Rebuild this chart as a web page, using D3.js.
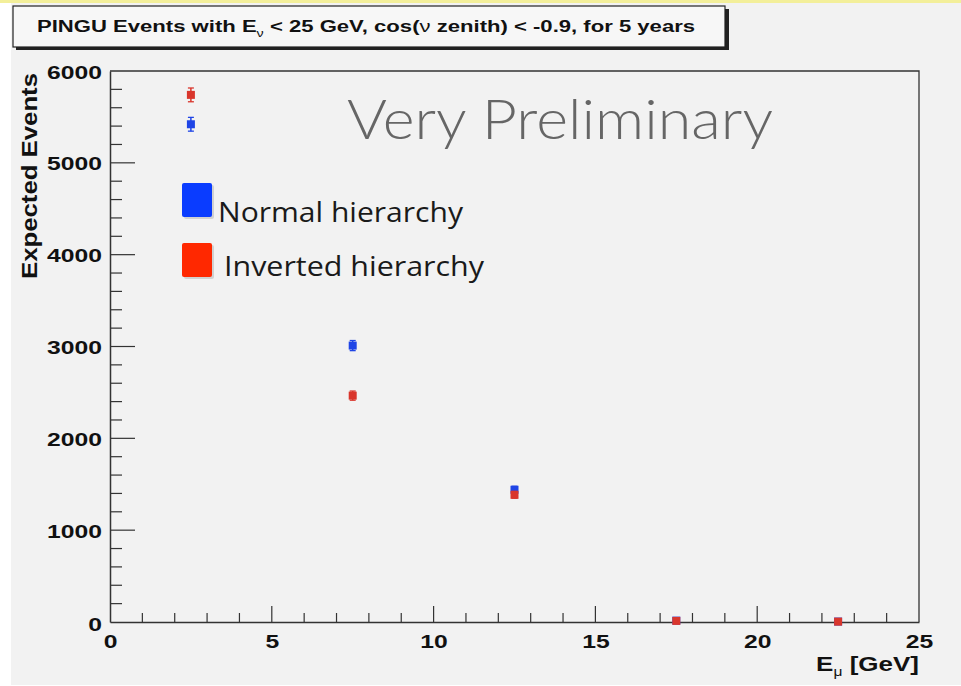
<!DOCTYPE html>
<html>
<head>
<meta charset="utf-8">
<title>PINGU events</title>
<script src="https://d3js.org/d3.v7.min.js"></script>
<style>
  body { margin: 0; background: #fff; }
  text { font-family: "Liberation Sans", Arial, sans-serif; }
</style>
</head>
<body>
<div id="chart"></div>
<script>
// data
var energyBins = [2.5, 7.5, 12.5, 17.5, 22.5];
var normalEvents = [5420, 3010, 1440, 15, 5];
var normalErrors = [75, 55, 38, 4, 2];
var invertedEvents = [5740, 2465, 1385, 12, 4];
var invertedErrors = [75, 50, 37, 4, 2];
var xTicks = [0, 5, 10, 15, 20, 25];
var yTicks = [0, 1000, 2000, 3000, 4000, 5000, 6000];

var width = 961, height = 686;
var plotLeft = 110, plotRight = 919, plotTop = 71, plotBottom = 622;
var stretch = 1.3; // the original picture is wider than tall

var svg = d3.select("#chart").append("svg")
  .attr("width", width).attr("height", height);

// background
svg.append("rect").attr("x", 11).attr("y", 3).attr("width", width - 11).attr("height", height - 4)
  .attr("fill", "#f2f2f2");
svg.append("rect").attr("x", 0).attr("y", 0).attr("width", width).attr("height", 3).attr("fill", "#f3ef9a");

var x = d3.scaleLinear().domain([0, 25]).range([plotLeft, plotRight]);
var y = d3.scaleLinear().domain([0, 6000]).range([plotBottom, plotTop]);

// title box with shadow
svg.append("rect").attr("x", 16).attr("y", 9).attr("width", 713).attr("height", 41).attr("fill", "#222");
svg.append("rect").attr("x", 13).attr("y", 6).attr("width", 712).attr("height", 41)
  .attr("fill", "#f7f7f7").attr("stroke", "#222").attr("stroke-width", 1.2);
var title = svg.append("text").attr("transform", "translate(366,32) scale(" + stretch + ",1)")
  .attr("text-anchor", "middle")
  .style("font-size", "17px").style("font-weight", "bold").attr("fill", "#111");
title.append("tspan").text("PINGU Events with E");
title.append("tspan").attr("dy", 5).style("font-size", "11px").style("font-weight", "normal").text("\u03bd");
title.append("tspan").attr("dy", -5).text(" < 25 GeV, cos(");
title.append("tspan").style("font-weight", "normal").text("\u03bd");
title.append("tspan").text(" zenith) < -0.9, for 5 years");

// frame
svg.append("path")
  .attr("d", "M" + plotLeft + "," + plotTop + "H" + plotRight + "V" + plotBottom)
  .attr("fill", "none").attr("stroke", "#333").attr("stroke-width", 1.3);

// x axis
var xAxis = svg.append("g").attr("transform", "translate(0," + plotBottom + ")")
  .call(d3.axisBottom(x).tickValues(xTicks).tickSize(0).tickPadding(0).tickFormat(d3.format("d")));
xAxis.select(".domain").attr("stroke", "#333").attr("stroke-width", 1.5);
xAxis.selectAll("text").attr("y", 0).attr("dy", null)
  .attr("transform", "translate(0,26) scale(" + stretch + ",1)")
  .style("font-size", "19px").style("font-weight", "bold").attr("fill", "#111");
svg.append("g").selectAll("line").data(d3.range(1, 25)).join("line")
  .attr("x1", function(d) { return x(d); }).attr("x2", function(d) { return x(d); })
  .attr("y1", plotBottom)
  .attr("y2", function(d) { return d % 5 === 0 ? plotBottom - 16 : plotBottom - 9; })
  .attr("stroke", "#333").attr("stroke-width", 1.2);

// y axis
var yAxis = svg.append("g").attr("transform", "translate(" + plotLeft + ",0)")
  .call(d3.axisLeft(y).tickValues(yTicks).tickSize(0).tickPadding(0).tickFormat(d3.format("d")));
yAxis.select(".domain").attr("stroke", "#333").attr("stroke-width", 1.5);
yAxis.selectAll("text").attr("x", 0)
  .attr("transform", function(d) { return "translate(-8," + (d === 0 ? 2 : 1) + ") scale(" + stretch + ",1)"; })
  .style("font-size", "19px").style("font-weight", "bold").attr("fill", "#111");
svg.append("g").selectAll("line").data(d3.range(200, 6000, 200)).join("line")
  .attr("y1", function(d) { return y(d); }).attr("y2", function(d) { return y(d); })
  .attr("x1", plotLeft)
  .attr("x2", function(d) { return d % 1000 === 0 ? plotLeft + 25 : plotLeft + 12; })
  .attr("stroke", "#333").attr("stroke-width", 1.2);

// axis titles
svg.append("text").attr("transform", "translate(37," + (plotTop + 2) + ") rotate(-90)")
  .attr("text-anchor", "end").style("font-size", "22px").style("font-weight", "bold")
  .attr("textLength", 206).attr("lengthAdjust", "spacingAndGlyphs")
  .attr("fill", "#111").text("Expected Events");
var xt = svg.append("text").attr("transform", "translate(" + plotRight + ",671) scale(" + stretch + ",1)")
  .attr("text-anchor", "end")
  .style("font-size", "20px").style("font-weight", "bold").attr("fill", "#111");
xt.append("tspan").text("E");
xt.append("tspan").attr("dy", 5).style("font-size", "12px").style("font-weight", "normal").text("\u03bc");
xt.append("tspan").attr("dy", -5).text(" [GeV]");

// data points with error bars
function drawSeries(vals, errs, color) {
  var g = svg.append("g");
  var pts = energyBins.map(function(e, i) { return { e: e, v: vals[i], err: errs[i] }; });
  g.selectAll("line.err").data(pts).join("line").attr("class", "err")
    .attr("x1", function(d) { return x(d.e); }).attr("x2", function(d) { return x(d.e); })
    .attr("y1", function(d) { return y(d.v + d.err); }).attr("y2", function(d) { return y(d.v - d.err); })
    .attr("stroke", color).attr("stroke-width", 1.5);
  g.selectAll("line.capt").data(pts).join("line").attr("class", "capt")
    .attr("x1", function(d) { return x(d.e) - 3; }).attr("x2", function(d) { return x(d.e) + 3; })
    .attr("y1", function(d) { return y(d.v + d.err); }).attr("y2", function(d) { return y(d.v + d.err); })
    .attr("stroke", color).attr("stroke-width", 1.3);
  g.selectAll("line.capb").data(pts).join("line").attr("class", "capb")
    .attr("x1", function(d) { return x(d.e) - 3; }).attr("x2", function(d) { return x(d.e) + 3; })
    .attr("y1", function(d) { return y(d.v - d.err); }).attr("y2", function(d) { return y(d.v - d.err); })
    .attr("stroke", color).attr("stroke-width", 1.3);
  g.selectAll("rect").data(pts).join("rect")
    .attr("x", function(d) { return x(d.e) - 4; }).attr("y", function(d) { return y(d.v) - 4; })
    .attr("width", 8).attr("height", 8).attr("fill", color);
}
drawSeries(normalEvents, normalErrors, "#1f45e6");
drawSeries(invertedEvents, invertedErrors, "#d9362c");

// watermark
svg.append("text").attr("x", 347).attr("y", 139).style("font-family", "Lato, 'Open Sans', sans-serif")
  .style("font-weight", 300).style("font-size", "56px").attr("fill", "#666")
  .attr("textLength", 426).attr("lengthAdjust", "spacingAndGlyphs").text("Very Preliminary");

// legend
var legend = [
  { label: "Normal hierarchy", color: "#0a3cff", y: 183, tx: 218, ty: 222, len: 245 },
  { label: "Inverted hierarchy", color: "#ff2800", y: 243, tx: 224, ty: 276, len: 260 }
];
legend.forEach(function(l) {
  svg.append("rect").attr("x", 184).attr("y", l.y + 2).attr("width", 30).attr("height", 34)
    .attr("rx", 2).attr("fill", "#bbb").attr("opacity", 0.6);
  svg.append("rect").attr("x", 182).attr("y", l.y).attr("width", 30).attr("height", 34)
    .attr("rx", 2).attr("fill", l.color);
  svg.append("text").attr("x", l.tx).attr("y", l.ty).style("font-family", "'Open Sans', Lato, sans-serif")
    .style("font-size", "28px").attr("fill", "#1a1a1a")
    .attr("textLength", l.len).attr("lengthAdjust", "spacingAndGlyphs").text(l.label);
});
</script>
</body>
</html>
